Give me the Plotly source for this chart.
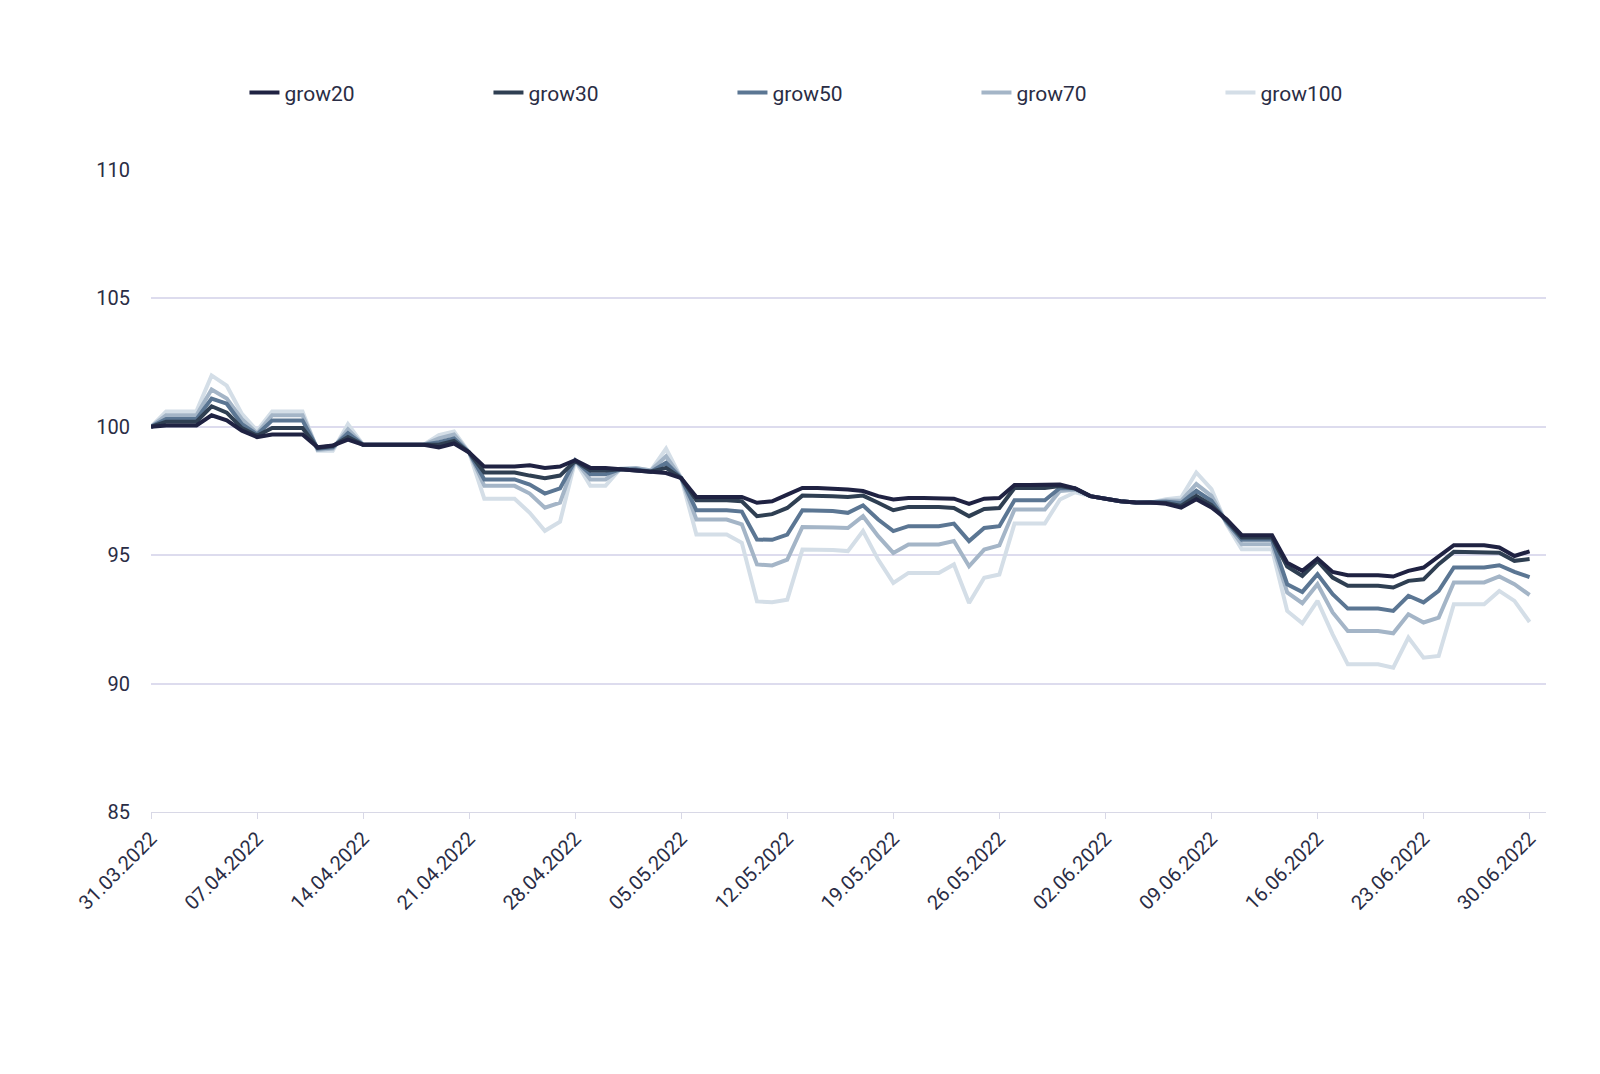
import pandas as pd
import plotly.graph_objects as go

dates = pd.date_range("2022-03-31", periods=92, freq="D")

grow20 = [100,100.05,100.05,100.05,100.45,100.25,99.85,99.6,99.7,99.7,99.7,99.2,99.27,99.5,
          99.3,99.3,99.3,99.3,99.3,99.2,99.35,99.0,98.45,98.45,98.45,98.5,98.4,98.45,98.7,98.4,
          98.4,98.35,98.3,98.25,98.2,98.0,97.27,97.27,97.27,97.27,97.04,97.1,97.36,97.62,97.62,
          97.6,97.56,97.5,97.3,97.17,97.23,97.23,97.23,97.2,97.0,97.2,97.23,97.73,97.73,97.73,
          97.75,97.6,97.3,97.2,97.1,97.05,97.05,97.0,96.85,97.18,96.86,96.4,95.78,95.78,95.78,
          94.71,94.39,94.87,94.35,94.22,94.22,94.22,94.17,94.39,94.52,94.97,95.39,95.39,95.39,
          95.3,94.97,95.15]
grow30 = [100,100.2,100.2,100.2,100.8,100.55,99.95,99.65,99.95,99.95,99.95,99.18,99.25,99.6,
          99.3,99.3,99.3,99.3,99.3,99.3,99.45,99.0,98.22,98.22,98.22,98.1,98.0,98.1,98.68,98.3,
          98.3,98.35,98.3,98.25,98.4,98.0,97.14,97.14,97.14,97.1,96.52,96.6,96.84,97.32,97.32,
          97.3,97.27,97.32,97.04,96.75,96.88,96.88,96.88,96.84,96.52,96.8,96.84,97.62,97.62,97.62,
          97.69,97.6,97.3,97.2,97.1,97.05,97.05,97.03,96.92,97.31,96.95,96.35,95.69,95.69,95.69,
          94.56,94.19,94.78,94.13,93.81,93.81,93.81,93.74,94.0,94.06,94.65,95.13,95.13,95.13,
          95.1,94.78,94.85]
grow50 = [100,100.3,100.3,100.3,101.1,100.9,100.1,99.7,100.25,100.25,100.25,99.15,99.2,99.75,
          99.3,99.3,99.3,99.3,99.3,99.4,99.55,99.0,97.95,97.95,97.95,97.75,97.4,97.6,98.7,98.15,
          98.15,98.35,98.35,98.25,98.6,98.0,96.75,96.75,96.75,96.7,95.61,95.6,95.8,96.75,96.75,
          96.72,96.65,96.94,96.39,95.94,96.13,96.13,96.13,96.23,95.55,96.06,96.13,97.14,97.14,97.14,
          97.62,97.6,97.3,97.2,97.1,97.05,97.05,97.08,97.03,97.51,97.12,96.3,95.6,95.6,95.6,
          93.87,93.57,94.26,93.48,92.92,92.92,92.92,92.83,93.42,93.16,93.61,94.52,94.52,94.52,
          94.61,94.35,94.15]
grow70 = [100,100.45,100.45,100.45,101.45,101.1,100.3,99.75,100.45,100.45,100.45,99.1,99.15,99.9,
          99.3,99.3,99.3,99.3,99.3,99.55,99.7,99.0,97.7,97.7,97.7,97.4,96.85,97.05,98.7,97.95,
          97.95,98.35,98.4,98.3,98.85,98.0,96.39,96.39,96.39,96.2,94.64,94.6,94.83,96.1,96.1,
          96.08,96.06,96.52,95.74,95.09,95.42,95.42,95.42,95.55,94.57,95.22,95.38,96.78,96.78,96.78,
          97.5,97.55,97.3,97.2,97.1,97.05,97.05,97.13,97.12,97.77,97.31,96.25,95.43,95.43,95.43,
          93.55,93.13,93.87,92.77,92.05,92.05,92.05,91.96,92.7,92.38,92.57,93.94,93.94,93.94,
          94.17,93.87,93.45]
grow100 = [100,100.6,100.6,100.6,102.0,101.6,100.5,99.85,100.6,100.6,100.6,99.07,99.07,100.1,
           99.3,99.3,99.3,99.3,99.3,99.68,99.82,99.0,97.2,97.2,97.2,96.65,95.95,96.3,98.68,97.7,
           97.7,98.38,98.4,98.3,99.15,98.0,95.81,95.81,95.81,95.48,93.2,93.17,93.27,95.22,95.22,
           95.2,95.16,95.94,94.83,93.92,94.31,94.31,94.31,94.64,93.14,94.12,94.25,96.23,96.23,96.23,
           97.17,97.45,97.3,97.2,97.1,97.05,97.05,97.18,97.25,98.22,97.57,96.2,95.23,95.23,95.23,
           92.83,92.35,93.22,91.92,90.75,90.75,90.75,90.62,91.79,91.01,91.08,93.09,93.09,93.09,
           93.61,93.22,92.4]

names = ["grow20", "grow30", "grow50", "grow70", "grow100"]
series = [grow20, grow30, grow50, grow70, grow100]
colors = ["#1f2242", "#2f3f52", "#5b7693", "#a4b5c7", "#d4dee7"]

fig = go.Figure()
for name, vals, col in reversed(list(zip(names, series, colors))):
    fig.add_trace(go.Scatter(x=dates[:len(vals)], y=vals, name=name, mode="lines",
                             line=dict(color=col, width=4)))

tickvals = pd.date_range("2022-03-31", "2022-06-30", freq="7D").tolist()
if pd.Timestamp("2022-06-30") not in tickvals:
    tickvals.append(pd.Timestamp("2022-06-30"))

fig.update_layout(
    width=1600, height=1074, plot_bgcolor="white", paper_bgcolor="white",
    margin=dict(l=143, r=62, t=162, b=270),
    font=dict(family="Roboto", color="#2a2d45", size=20),
    legend=dict(orientation="h", traceorder="reversed", x=0.067, y=1.12, xanchor="left",
                yanchor="middle", entrywidth=199, font=dict(size=21)),
    xaxis=dict(type="date", tickvals=tickvals, tickformat="%d.%m.%Y", tickangle=-45,
               range=[pd.Timestamp("2022-03-31"), pd.Timestamp("2022-07-01 02:00")],
               showgrid=False, showline=True, linecolor="#d8d8e6", ticks="outside",
               tickcolor="#d8d8e6", ticklen=6, zeroline=False),
    yaxis=dict(range=[85, 110], tickvals=[85, 90, 95, 100, 105, 110], showgrid=True,
               gridcolor="#dddcee", gridwidth=1.5, zeroline=False, ticks="", ticklabelstandoff=20),
)
fig.write_html("out.html")
